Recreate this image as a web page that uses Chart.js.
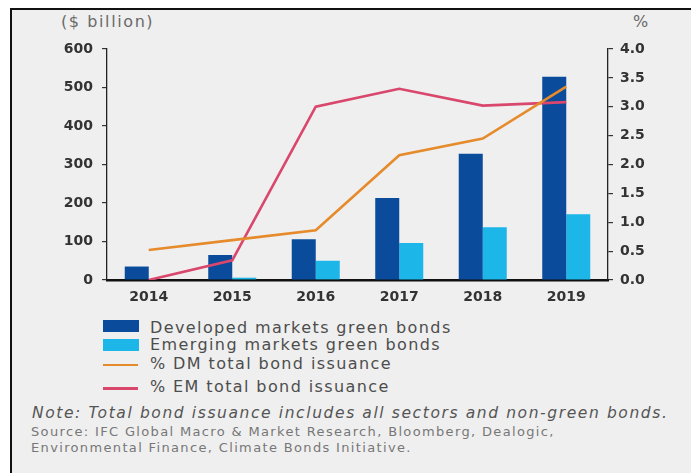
<!DOCTYPE html>
<html>
<head>
<meta charset="utf-8">
<script src="https://cdn.jsdelivr.net/npm/chart.js@4"></script>
<style>
  html, body { margin:0; padding:0; background:#fff; }
  #wrap { position:relative; width:691px; height:473px; overflow:hidden; background:#fff; font-family:"DejaVu Sans", sans-serif; }
  #panel { position:absolute; left:10px; top:8px; right:0; bottom:0; background:#efefef; border-left:2px solid #111; border-top:2px solid #111; }
  #chartBox { position:absolute; left:0; top:0; width:691px; height:315px; }
  .t { position:absolute; white-space:nowrap; line-height:1; }
  .unit { font-size:16px; color:#6a6a6a; letter-spacing:1.6px; }
  .leg { font-size:16px; color:#4d4d4d; letter-spacing:1.4px; }
  .sw { position:absolute; }
  .note { font-size:15.5px; color:#555; font-style:italic; letter-spacing:1.6px; }
  .src { font-size:13px; color:#777; letter-spacing:1.35px; line-height:16px; }
</style>
</head>
<body>
<div id="wrap">
  <div id="panel"></div>
  <div class="t unit" style="left:61px; top:14px;">($ billion)</div>
  <div class="t unit" style="left:633px; top:14px;">%</div>
  <div id="chartBox"><canvas id="c"></canvas></div>

  <div class="sw" style="left:103px; top:320px; width:36px; height:12px; background:#0a4c9b;"></div>
  <div class="sw" style="left:103px; top:339px; width:36px; height:12px; background:#1cb6e9;"></div>
  <div class="sw" style="left:103px; top:363.5px; width:35px; height:2.5px; background:#e68b2c;"></div>
  <div class="sw" style="left:103px; top:386.5px; width:35px; height:3px; background:#d9476d;"></div>
  <div class="t leg" style="left:150px; top:319.5px;">Developed markets green bonds</div>
  <div class="t leg" style="left:150px; top:337px;">Emerging markets green bonds</div>
  <div class="t leg" style="left:150px; top:355.5px;">% DM total bond issuance</div>
  <div class="t leg" style="left:150px; top:378.5px;">% EM total bond issuance</div>

  <div class="t note" style="left:32px; top:406px;">Note: Total bond issuance includes all sectors and non-green bonds.</div>
  <div class="t src" style="left:31px; top:424px;">Source: IFC Global Macro &amp; Market Research, Bloomberg, Dealogic,<br>Environmental Finance, Climate Bonds Initiative.</div>
</div>
<script>
const years = ['2014', '2015', '2016', '2017', '2018', '2019'];
const dmGreenBonds = [35, 65, 106, 213, 328, 528];
const emGreenBonds = [0, 6, 50, 96, 137, 171];
const dmPctIssuance = [0.52, 0.69, 0.86, 2.16, 2.45, 3.35];
const emPctIssuance = [0.0, 0.34, 3.0, 3.31, 3.02, 3.08];

const tickFont = { family: 'DejaVu Sans', size: 14, weight: 'bold' };

new Chart(document.getElementById('c'), {
  type: 'bar',
  data: {
    labels: years,
    datasets: [
      { type:'line', label:'% DM total bond issuance', data: dmPctIssuance, yAxisID:'y1',
        borderColor:'#e68b2c', borderWidth:2.6, pointRadius:0, tension:0, order:0 },
      { type:'line', label:'% EM total bond issuance', data: emPctIssuance, yAxisID:'y1',
        borderColor:'#d9476d', borderWidth:2.6, pointRadius:0, tension:0, order:0 },
      { label:'Developed markets green bonds', data: dmGreenBonds, yAxisID:'y',
        backgroundColor:'#0a4c9b', categoryPercentage:0.575, barPercentage:1.0, order:1 },
      { label:'Emerging markets green bonds', data: emGreenBonds, yAxisID:'y',
        backgroundColor:'#1cb6e9', categoryPercentage:0.575, barPercentage:1.0, order:1 }
    ]
  },
  options: {
    responsive: true,
    maintainAspectRatio: false,
    animation: false,
    layout: { padding: { top: 49, left: 0, right: 0, bottom: 0 } },
    plugins: { legend: { display:false }, tooltip: { enabled:false } },
    scales: {
      x: {
        grid: { display:false, drawTicks:false },
        border: { display:true, color:'#111', width:2.5 },
        ticks: { font: tickFont, color:'#333', padding:9 },
        afterFit: s => { s.height = 35; }
      },
      y: {
        position:'left', min:0, max:600,
        ticks: { stepSize:100, font: tickFont, color:'#333', padding:9 },
        grid: { drawOnChartArea:false, drawTicks:true, tickLength:5, color:'#333', lineWidth:1.2 },
        border: { display:true, color:'#222', width:1.3 },
        afterFit: s => { s.width = 107; }
      },
      y1: {
        position:'right', min:0, max:4,
        ticks: { stepSize:0.5, font: tickFont, color:'#333', padding:7,
                 callback: v => Number(v).toFixed(1) },
        grid: { drawOnChartArea:false, drawTicks:true, tickLength:5, color:'#333', lineWidth:1.2 },
        border: { display:true, color:'#222', width:1.3 },
        afterFit: s => { s.width = 83; }
      }
    }
  }
});
</script>
</body>
</html>
